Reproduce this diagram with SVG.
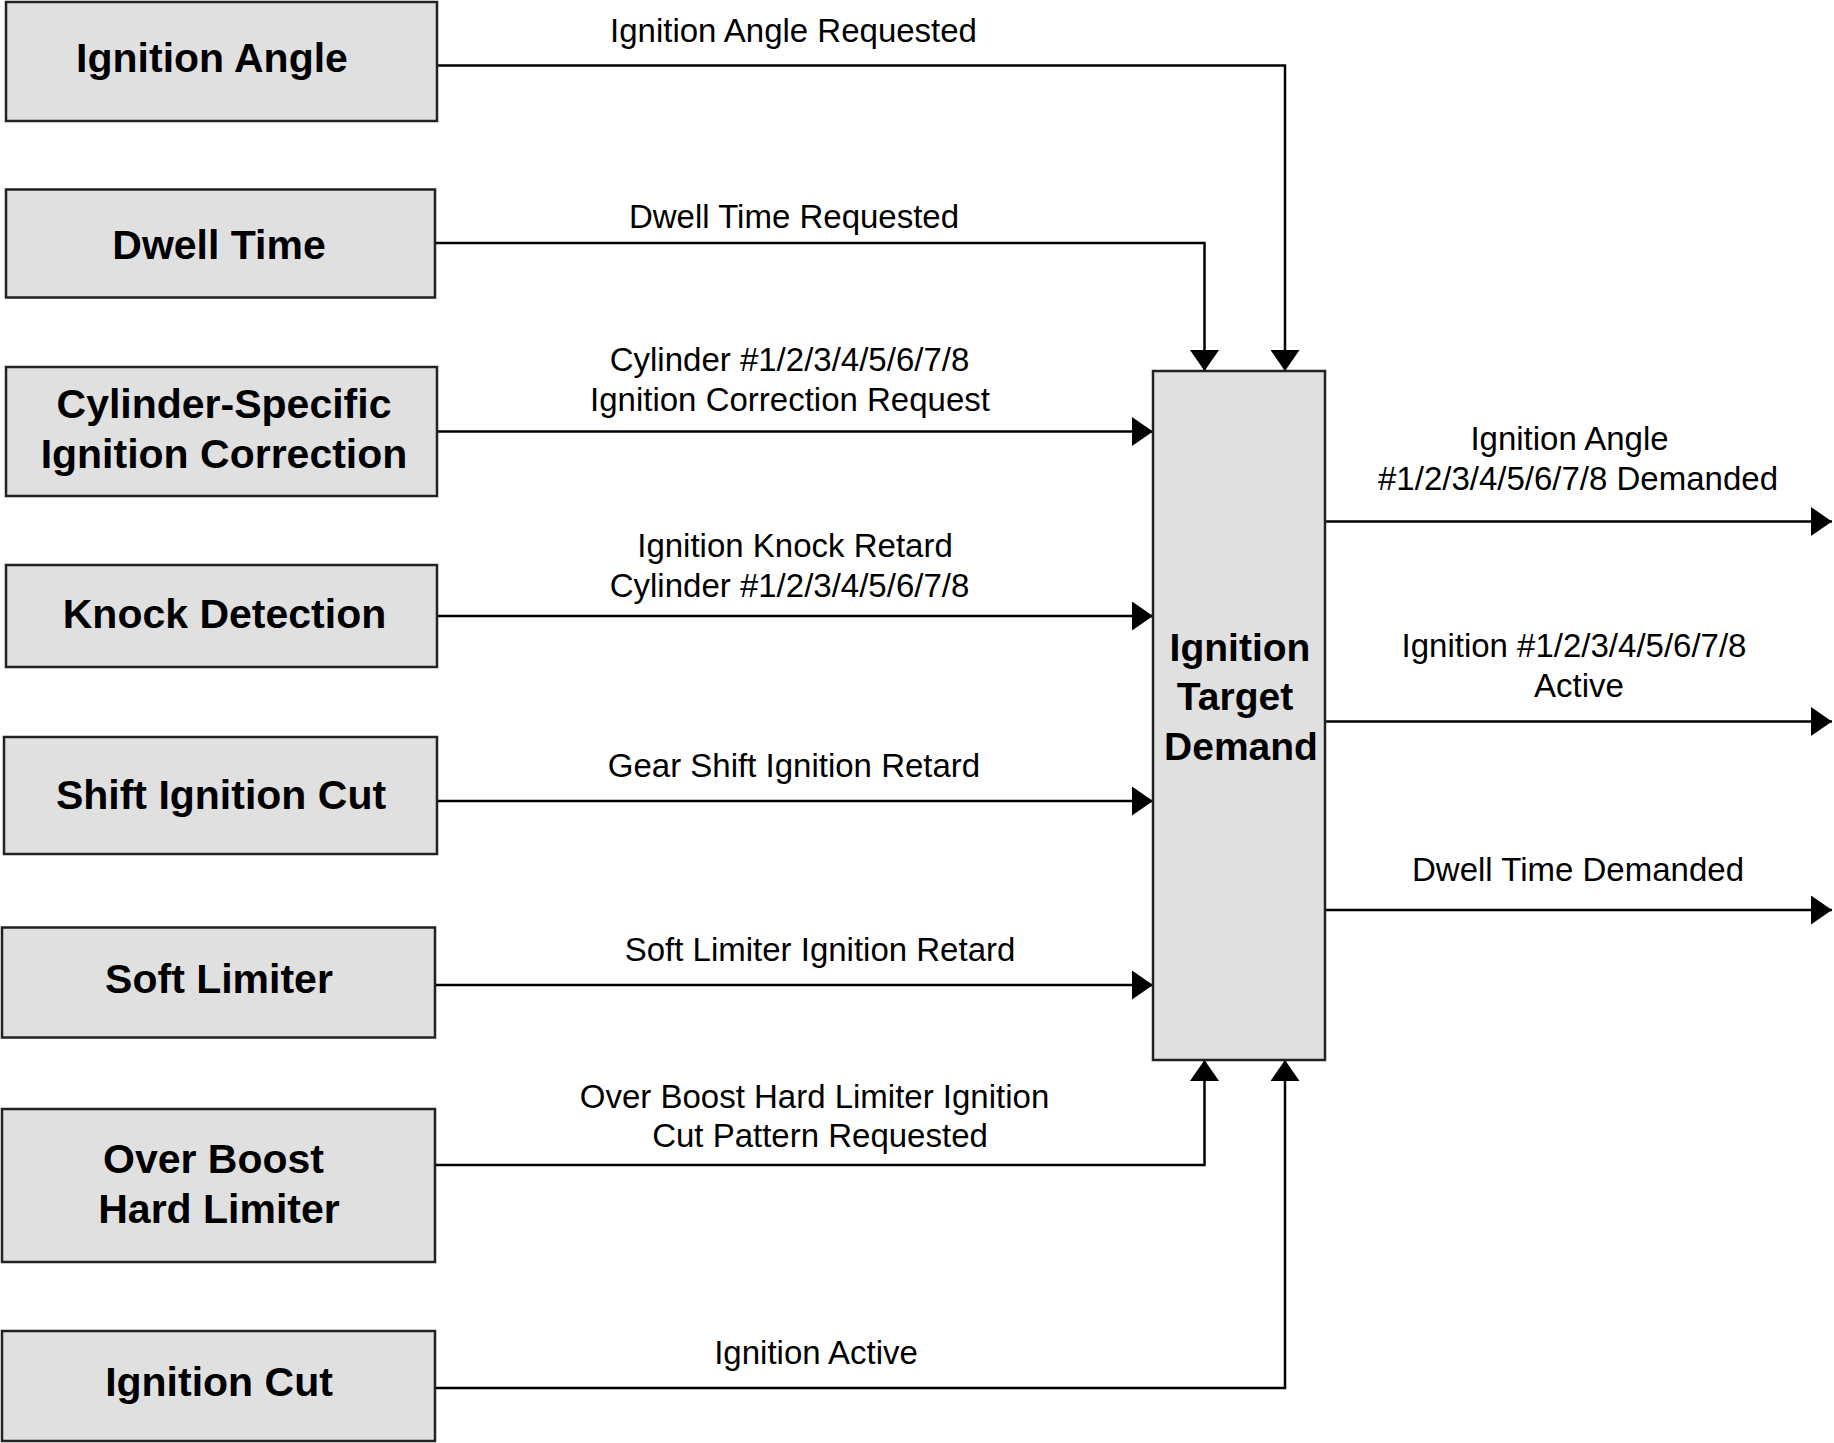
<svg xmlns="http://www.w3.org/2000/svg" width="1834" height="1443" viewBox="0 0 1834 1443">
<style>
.box{fill:#e0e0e0;stroke:#222;stroke-width:2.5}
.bt{font-family:"Liberation Sans",Arial,sans-serif;font-weight:bold;font-size:41px;fill:#000;text-anchor:middle}
.ct{font-family:"Liberation Sans",Arial,sans-serif;font-weight:bold;font-size:39px;fill:#000;text-anchor:middle}
.lt{font-family:"Liberation Sans",Arial,sans-serif;font-size:33px;fill:#000;text-anchor:middle}
.ln{fill:none;stroke:#000;stroke-width:2.5;marker-end:url(#ah)}
</style>
<defs>
<marker id="ah" markerUnits="userSpaceOnUse" markerWidth="21" markerHeight="29" viewBox="0 0 21 29" refX="21" refY="14.5" orient="auto">
<path d="M0,0 L21,14.5 L0,29 z" fill="#000"/>
</marker>
</defs>
<rect width="1834" height="1443" fill="#fff"/>
<g id="connectors">
<path class="ln" d="M437,65.5 H1285 V371"/>
<path class="ln" d="M435,243 H1204.5 V371"/>
<path class="ln" d="M437,431.5 H1153"/>
<path class="ln" d="M437,616 H1153"/>
<path class="ln" d="M437,801 H1153"/>
<path class="ln" d="M435,985 H1153"/>
<path class="ln" d="M435,1165 H1204.5 V1060"/>
<path class="ln" d="M435,1388 H1285 V1060"/>
<path class="ln" d="M1325,521.5 H1832"/>
<path class="ln" d="M1325,721.5 H1832"/>
<path class="ln" d="M1325,910 H1832"/>
</g>
<g id="labels">
<text class="lt" x="793.5" y="42">Ignition Angle Requested</text>
<text class="lt" x="794" y="228">Dwell Time Requested</text>
<text class="lt" x="789.5" y="371">Cylinder #1/2/3/4/5/6/7/8</text>
<text class="lt" x="790" y="410.5">Ignition Correction Request</text>
<text class="lt" x="795" y="557">Ignition Knock Retard</text>
<text class="lt" x="789.5" y="596.5">Cylinder #1/2/3/4/5/6/7/8</text>
<text class="lt" x="794" y="776.5">Gear Shift Ignition Retard</text>
<text class="lt" x="820" y="961">Soft Limiter Ignition Retard</text>
<text class="lt" x="814.5" y="1107.5">Over Boost Hard Limiter Ignition</text>
<text class="lt" x="820" y="1147">Cut Pattern Requested</text>
<text class="lt" x="816" y="1364">Ignition Active</text>
<text class="lt" x="1569.5" y="450">Ignition Angle</text>
<text class="lt" x="1578" y="490">#1/2/3/4/5/6/7/8 Demanded</text>
<text class="lt" x="1574" y="657">Ignition #1/2/3/4/5/6/7/8</text>
<text class="lt" x="1579" y="697">Active</text>
<text class="lt" x="1578" y="880.5">Dwell Time Demanded</text>
</g>
<g id="ignition-angle">
<rect class="box" x="6" y="2" width="431" height="119"/>
<text class="bt" x="212" y="72">Ignition Angle</text>
</g>
<g id="dwell-time">
<rect class="box" x="6" y="189.5" width="429" height="108"/>
<text class="bt" x="219" y="259">Dwell Time</text>
</g>
<g id="cylinder-specific">
<rect class="box" x="6" y="367" width="431" height="129"/>
<text class="bt" x="224" y="418">Cylinder-Specific</text>
<text class="bt" x="224" y="468">Ignition Correction</text>
</g>
<g id="knock-detection">
<rect class="box" x="6" y="565" width="431" height="102"/>
<text class="bt" x="224.5" y="628">Knock Detection</text>
</g>
<g id="shift-ignition-cut">
<rect class="box" x="4" y="737" width="433" height="117"/>
<text class="bt" x="221" y="809">Shift Ignition Cut</text>
</g>
<g id="soft-limiter">
<rect class="box" x="2" y="927.5" width="433" height="110"/>
<text class="bt" x="219" y="993">Soft Limiter</text>
</g>
<g id="over-boost">
<rect class="box" x="2" y="1109" width="433" height="153"/>
<text class="bt" x="213.5" y="1173">Over Boost</text>
<text class="bt" x="219" y="1223">Hard Limiter</text>
</g>
<g id="ignition-cut">
<rect class="box" x="2" y="1331" width="433" height="110"/>
<text class="bt" x="219" y="1396">Ignition Cut</text>
</g>
<g id="ignition-target-demand">
<rect class="box" x="1153" y="371" width="172" height="689"/>
<text class="ct" x="1240" y="661">Ignition</text>
<text class="ct" x="1235" y="710">Target</text>
<text class="ct" x="1241" y="760">Demand</text>
</g>
</svg>
